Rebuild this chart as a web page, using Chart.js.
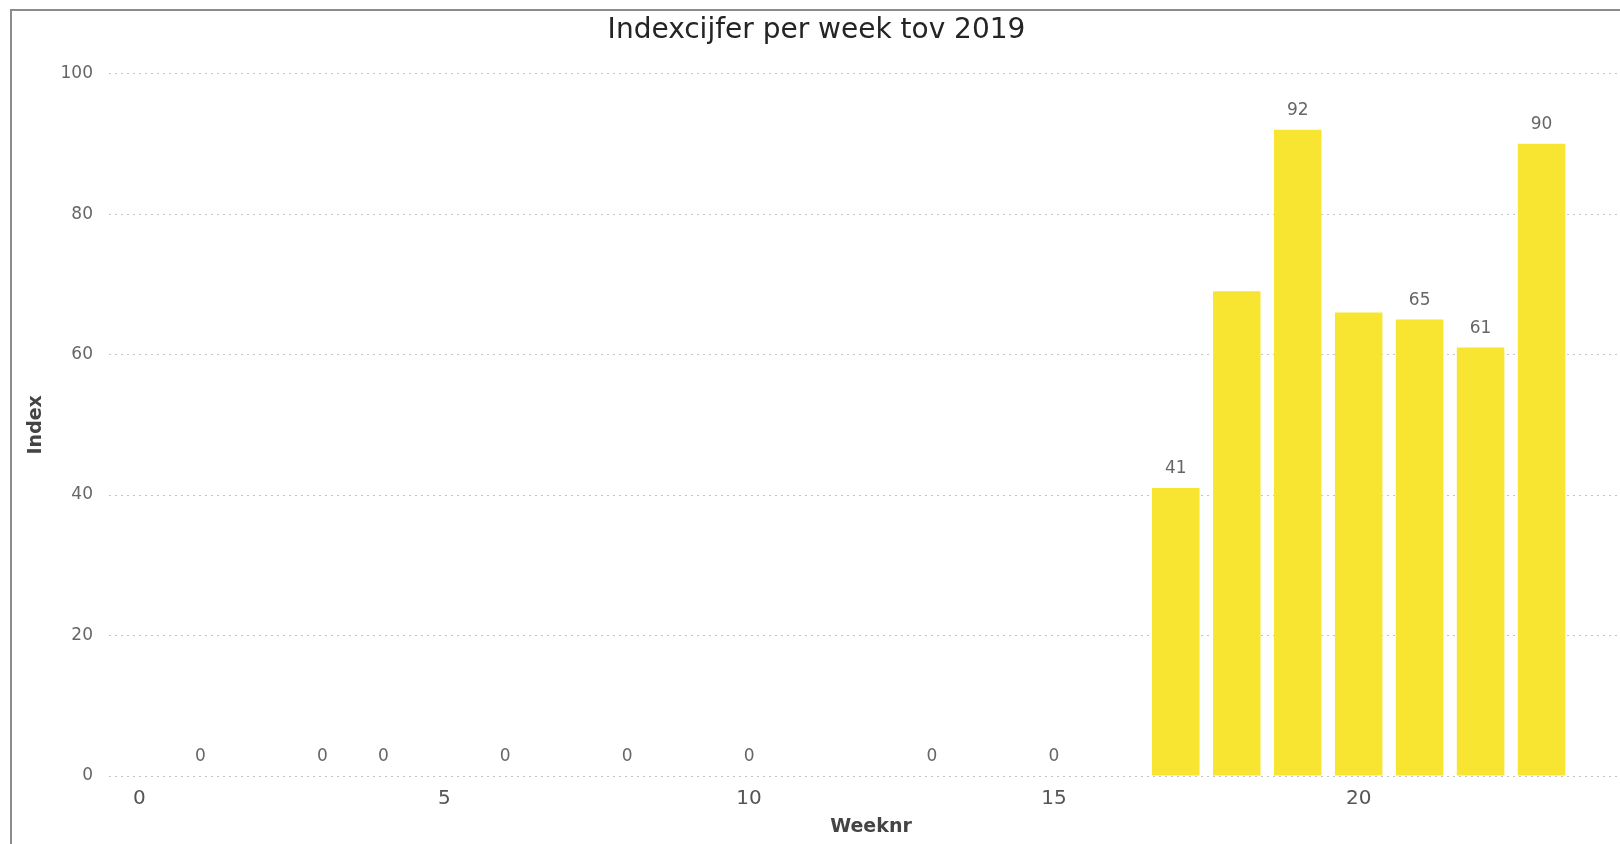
<!DOCTYPE html>
<html>
<head>
<meta charset="utf-8">
<title>Indexcijfer per week tov 2019</title>
<script src="https://cdn.jsdelivr.net/npm/chart.js@4/dist/chart.umd.min.js"></script>
<style>
  html, body { margin: 0; padding: 0; background: #fff; overflow: hidden; }
  #frame {
    position: absolute; left: 10px; top: 9px; width: 1700px; height: 900px;
    border-top: 2px solid #8c8c8c; border-left: 2px solid #8c8c8c;
  }
  #myChart { position: absolute; left: 0; top: 0; }
</style>
</head>
<body>
<div id="frame"></div>
<canvas id="myChart" width="1650" height="844"></canvas>
<script>
// weeks that have a value
const weeks = [1, 3, 4, 6, 8, 10, 13, 15, 17, 18, 19, 20, 21, 22, 23];
// index per week (2020 vs 2019)
const indexValues = [0, 0, 0, 0, 0, 0, 0, 0, 41, 69, 92, 66, 65, 61, 90];
// weeks where the report hides the value label
const hiddenLabelWeeks = [18, 20];
const xTicks = [0, 5, 10, 15, 20];
const yTicks = [0, 20, 40, 60, 80, 100];

const points = weeks.map((w, i) => ({ x: w, y: indexValues[i] }));

// value labels above the bars
const valueLabels = {
    id: "valueLabels",
    afterDatasetsDraw(chart) {
        const ctx = chart.ctx;
        const meta = chart.getDatasetMeta(0);
        ctx.save();
        ctx.font = "17px 'DejaVu Sans'";
        ctx.fillStyle = "#666666";
        ctx.textAlign = "center";
        ctx.textBaseline = "middle";
        meta.data.forEach((bar, i) => {
            if (hiddenLabelWeeks.includes(weeks[i])) return;
            ctx.fillText(String(indexValues[i]), bar.x, bar.y - 19);
        });
        ctx.restore();
    },
};

const data = {
    datasets: [
        {
            label: "Index",
            backgroundColor: "#F8E532",
            borderWidth: 0,
            barPercentage: 0.78,
            categoryPercentage: 1,
            data: points,
        },
    ],
};

const config = {
    type: "bar",
    data: data,
    plugins: [valueLabels],
    options: {
        responsive: false,
        animation: false,
        devicePixelRatio: 1,
        layout: { padding: { left: 0, right: 17, top: 0, bottom: 0 } },
        plugins: {
            legend: { display: false },
            tooltip: { enabled: false },
            title: {
                display: true,
                text: "Indexcijfer per week tov 2019",
                color: "#252423",
                font: { family: "'DejaVu Sans'", size: 28, weight: "normal" },
                padding: { top: 14, bottom: 26 },
            },
        },
        scales: {
            x: {
                type: "linear",
                min: -0.5,
                max: 24.5,
                offset: false,
                grid: { display: false, offset: false },
                border: { display: false },
                afterBuildTicks: (scale) => {
                    scale.ticks = xTicks.map((v) => ({ value: v }));
                },
                afterFit: (scale) => {
                    scale.height = 68;
                },
                ticks: {
                    color: "#555555",
                    padding: 3,
                    font: { family: "'DejaVu Sans'", size: 20 },
                },
                title: {
                    display: true,
                    text: "Weeknr",
                    color: "#444444",
                    font: { family: "'DejaVu Sans'", size: 19, weight: "bold" },
                    padding: { top: 0, bottom: 6 },
                },
            },
            y: {
                min: 0,
                max: 100,
                grid: { color: "#c4c4c4", lineWidth: 1, drawTicks: false },
                border: { display: false, dash: [2, 4] },
                afterBuildTicks: (scale) => {
                    scale.ticks = yTicks.map((v) => ({ value: v }));
                },
                afterFit: (scale) => {
                    scale.width = 109;
                },
                ticks: {
                    color: "#666666",
                    padding: 16,
                    font: { family: "'DejaVu Sans'", size: 17 },
                },
                title: {
                    display: true,
                    text: "Index",
                    color: "#444444",
                    font: { family: "'DejaVu Sans'", size: 19, weight: "bold" },
                    padding: { top: 25, bottom: 0 },
                },
            },
        },
    },
};

const ctx = document.getElementById("myChart").getContext("2d");
const myChart = new Chart(ctx, config);
</script>
</body>
</html>
